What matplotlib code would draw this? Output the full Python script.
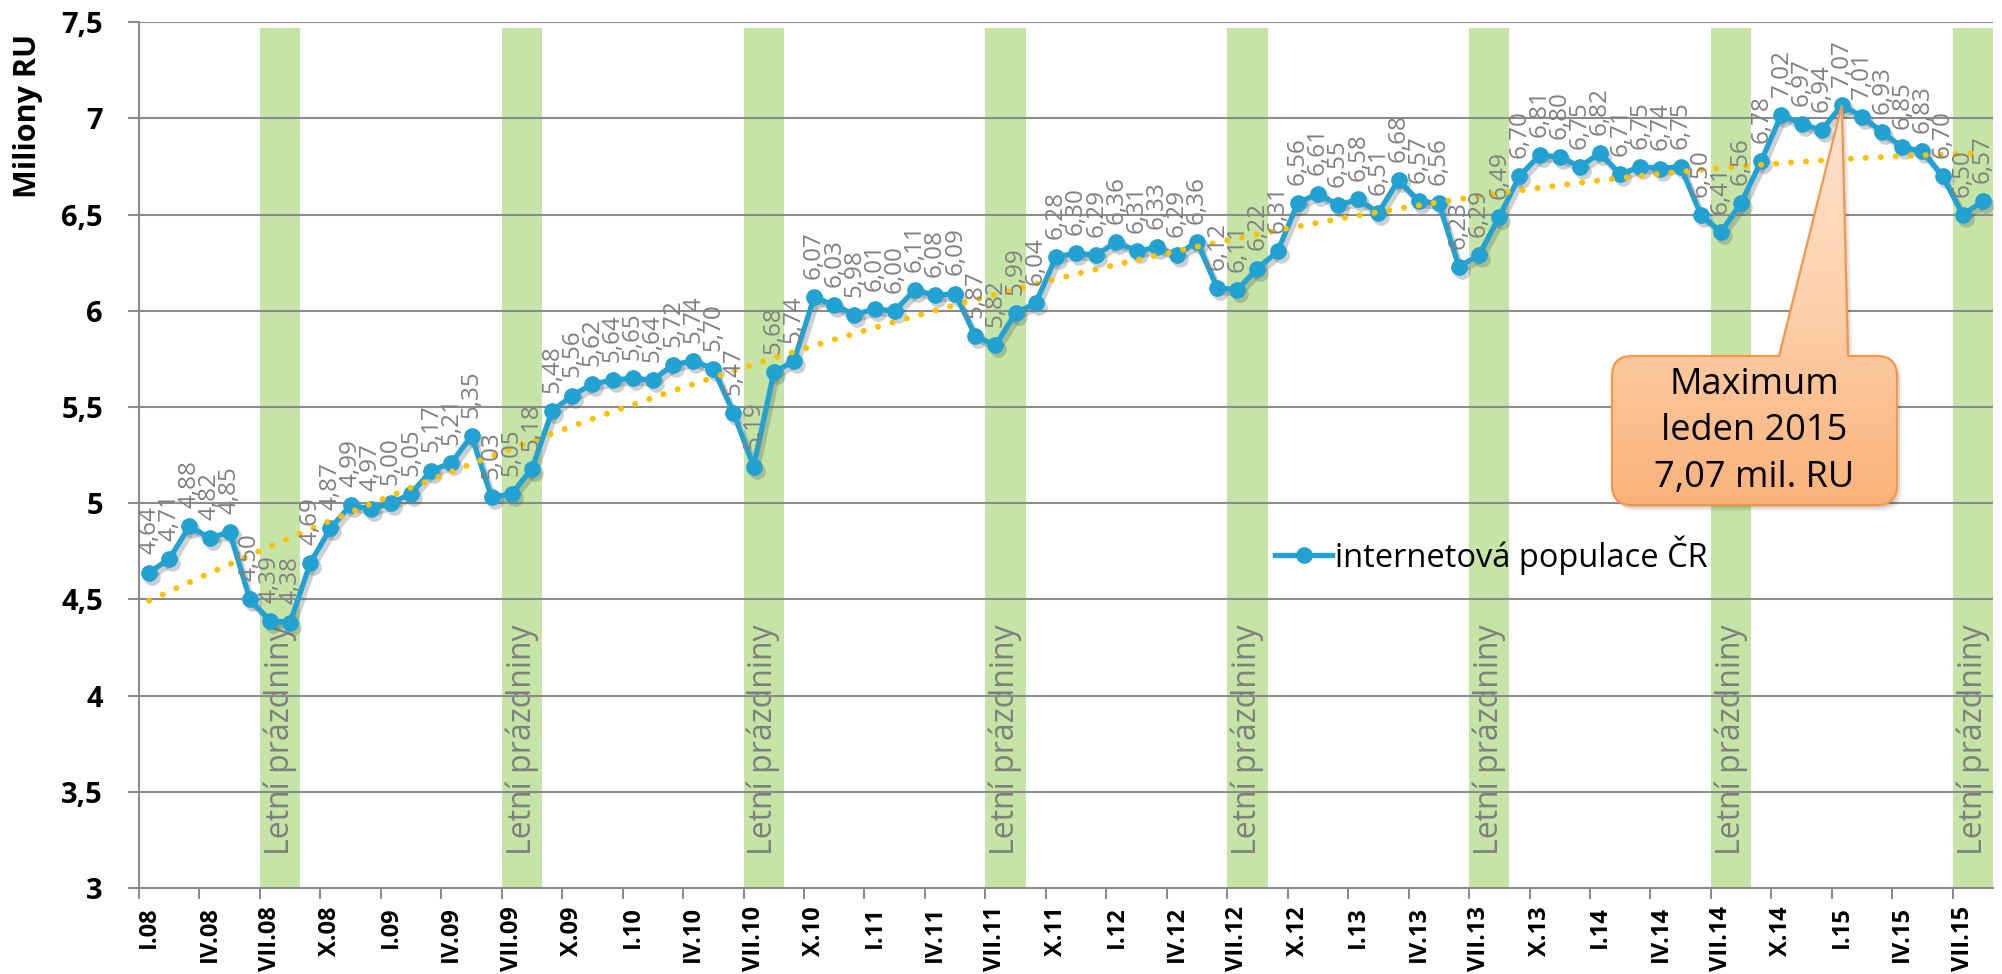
import numpy as np
import matplotlib.pyplot as plt
from matplotlib.patches import PathPatch
from matplotlib.path import Path
from matplotlib.colors import LinearSegmentedColormap
from matplotlib.ticker import FuncFormatter
from matplotlib.transforms import offset_copy

plt.rcParams['font.family'] = ['Open Sans', 'DejaVu Sans']

# data - internetova populace CR (miliony RU), mesicne I.08 - VIII.15
mesice = ['I', 'II', 'III', 'IV', 'V', 'VI', 'VII', 'VIII', 'IX', 'X', 'XI', 'XII']
roky = ['08', '09', '10', '11', '12', '13', '14', '15']
populace = [
    4.64, 4.71, 4.88, 4.82, 4.85, 4.50, 4.39, 4.38, 4.69, 4.87, 4.99, 4.97,
    5.00, 5.05, 5.17, 5.21, 5.35, 5.03, 5.05, 5.18, 5.48, 5.56, 5.62, 5.64,
    5.65, 5.64, 5.72, 5.74, 5.70, 5.47, 5.19, 5.68, 5.74, 6.07, 6.03, 5.98,
    6.01, 6.00, 6.11, 6.08, 6.09, 5.87, 5.82, 5.99, 6.04, 6.28, 6.30, 6.29,
    6.36, 6.31, 6.33, 6.29, 6.36, 6.12, 6.11, 6.22, 6.31, 6.56, 6.61, 6.55,
    6.58, 6.51, 6.68, 6.57, 6.56, 6.23, 6.29, 6.49, 6.70, 6.81, 6.80, 6.75,
    6.82, 6.71, 6.75, 6.74, 6.75, 6.50, 6.41, 6.56, 6.78, 7.02, 6.97, 6.94,
    7.07, 7.01, 6.93, 6.85, 6.83, 6.70, 6.50, 6.57,
]
kategorie = [m + '.' + r for r in roky for m in mesice][:len(populace)]
leto = [i for i, k in enumerate(kategorie) if k.split('.')[0] in ('VII', 'VIII')]
pas_vyska = 7.47

modra = '#22a2d3'
seda = '#8c8c8c'

fig = plt.figure(figsize=(20.02, 9.74), dpi=100)
ax = fig.add_axes([139 / 2002, 1 - 888 / 974, (1993 - 139) / 2002, (888 - 22.3) / 974])
x = np.arange(len(populace))
ax.set_xlim(-0.5, len(populace) - 0.5)
ax.set_ylim(3, 7.5)

# letni prazdniny - pasy
ax.bar(leto, [pas_vyska - 3] * len(leto), bottom=3, width=1.0, color='#c5e4a5',
       linewidth=0, zorder=0.8)
for i in leto:
    if kategorie[i].startswith('VII.'):
        ax.text(i + 0.5, 3.17, 'Letní prázdniny', rotation=90, ha='center', va='bottom',
                fontsize=23, color='#7f7f7f', zorder=1.2)

ax.set_axisbelow('line')
ax.yaxis.grid(True, color=seda, lw=1.5)

# hlavni rada + stin
stin_tr = offset_copy(ax.transData, fig=fig, x=3, y=-4, units='dots')
ax.plot(x, populace, color='#555555', alpha=0.28, lw=4.5, marker='o', ms=12,
        markeredgewidth=0, transform=stin_tr, zorder=3.5)
ax.plot(x, populace, color=modra, lw=3.8, marker='o', ms=11, zorder=4,
        label='internetová populace ČR')

# polynomicky trend
koef = np.polyfit(x, populace, 2)
ax.plot(x, np.polyval(koef, x), color='#ffc000', lw=4.3, linestyle=(0, (0.01, 2.5)),
        dash_capstyle='round', zorder=5)

for i, v in zip(x, populace):
    ax.annotate(f'{v:.2f}'.replace('.', ','), (i, v), xytext=(0, 13),
                textcoords='offset points', rotation=90, ha='center', va='bottom',
                fontsize=17.5, color='#808080', zorder=6)

# osy
ax.set_xticks(np.arange(-0.5, len(populace), 3))
ax.set_xticklabels([])
ax.set_xticks(x[::3], minor=True)
ax.set_xticklabels(kategorie[::3], minor=True, rotation=90, fontsize=17, fontweight='bold')
ax.tick_params(axis='x', which='major', length=8, width=1.5, color=seda)
ax.tick_params(axis='x', which='minor', length=0, pad=13)
ax.set_yticks(np.arange(3, 7.51, 0.5))
ax.yaxis.set_major_formatter(FuncFormatter(lambda v, p: f'{v:g}'.replace('.', ',')))
ax.tick_params(axis='y', length=8, width=1.5, color=seda, pad=18, labelsize=21)
for t in ax.get_yticklabels():
    t.set_fontweight('bold')
for s in ['top', 'right']:
    ax.spines[s].set_visible(False)
for s in ['left', 'bottom']:
    ax.spines[s].set_color(seda)
    ax.spines[s].set_linewidth(1.5)

fig.text(28 / 2002, 1 - 116 / 974, 'Miliony RU', rotation=90, ha='center', va='center',
         fontsize=22, fontweight='bold')

ax.legend(loc='center left', bbox_to_anchor=(1275 / 2002, 1 - 555 / 974),
          bbox_transform=fig.transFigure, frameon=False, fontsize=23.5,
          handlelength=1.75, handletextpad=0.1, borderpad=0, borderaxespad=0)

# popisek maxima (v pixelovych souradnicich)
ov = fig.add_axes([0, 0, 1, 1], zorder=10)
ov.set_xlim(0, 2002)
ov.set_ylim(974, 0)
ov.axis('off')

imax = int(np.argmax(populace))
tip = ov.transData.inverted().transform(ax.transData.transform((imax, populace[imax])))
L, R, T, B, r = 1612, 1897, 356, 505, 20
w1, w2 = 1779, 1848
verts = [(L + r, T), (w1, T), tuple(tip), (w2, T), (R - r, T), (R, T), (R, T + r),
         (R, B - r), (R, B), (R - r, B), (L + r, B), (L, B), (L, B - r),
         (L, T + r), (L, T), (L + r, T), (L + r, T)]
codes = [Path.MOVETO, Path.LINETO, Path.LINETO, Path.LINETO, Path.LINETO,
         Path.CURVE3, Path.CURVE3, Path.LINETO, Path.CURVE3, Path.CURVE3,
         Path.LINETO, Path.CURVE3, Path.CURVE3, Path.LINETO, Path.CURVE3, Path.CURVE3,
         Path.CLOSEPOLY]
tvar = Path(verts, codes)
for k, a in [(6, 0.06), (4, 0.08), (2, 0.1)]:
    ov.add_patch(PathPatch(Path(np.array(verts) + [k - 1, k], codes), fc='k', ec='none',
                           alpha=a, zorder=1))
ov.add_patch(PathPatch(tvar, fc='white', ec='none', zorder=1.5))
ov.add_patch(PathPatch(tvar, fc='none', ec='#f79646', lw=1.6, zorder=3))
cmap = LinearSegmentedColormap.from_list('oranz', ['#fee4d0', '#fdd0ac', '#fab27a'])
grad = np.linspace(0, 1, 256).reshape(-1, 1)
img = ov.imshow(grad, cmap=cmap, extent=[L, R, B, tip[1]], aspect='auto', zorder=2,
                origin='upper')
img.set_clip_path(PathPatch(tvar, transform=ov.transData))
ov.set_xlim(0, 2002)
ov.set_ylim(974, 0)
for yy, s in zip([385, 431, 478], ['Maximum', 'leden 2015', '7,07 mil. RU']):
    ov.text((L + R) / 2, yy, s, ha='center', va='center', fontsize=26, color='k', zorder=4)

fig.savefig('out.png', dpi=100)
